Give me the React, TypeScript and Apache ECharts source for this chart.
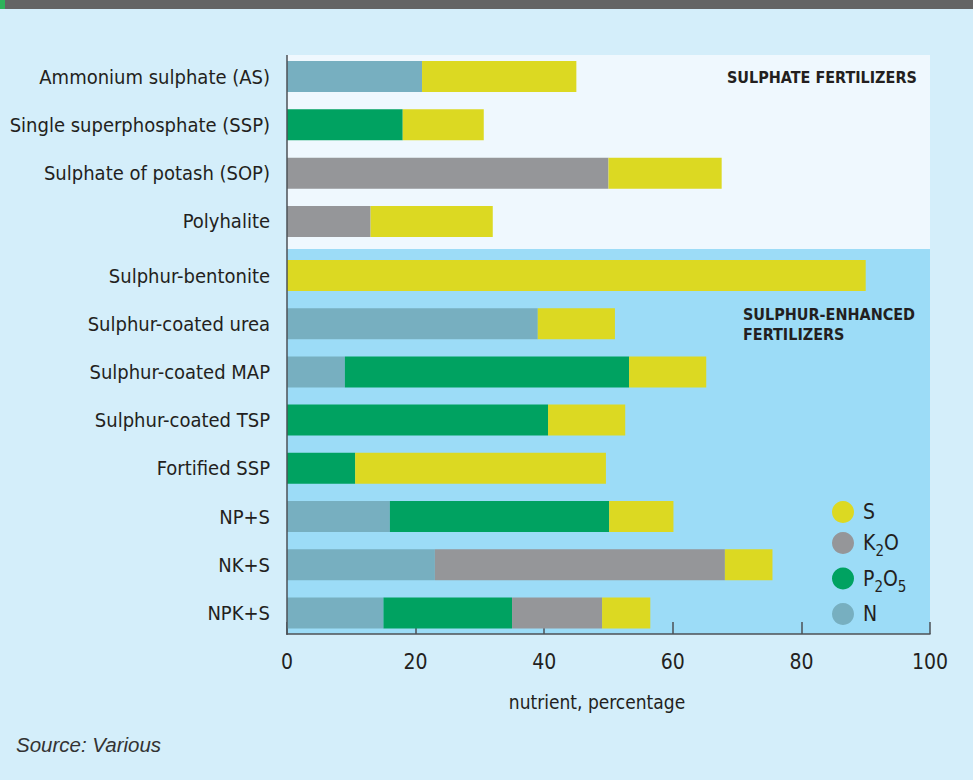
import React, { useEffect, useRef } from "react";
import * as echarts from "echarts";

const sulphateCats = ["Ammonium sulphate (AS)", "Single superphosphate (SSP)", "Sulphate of potash (SOP)", "Polyhalite"];
const sulphateN = [21, 0, 0, 0];
const sulphateP = [0, 18, 0, 0];
const sulphateK = [0, 0, 50, 13];
const sulphateS = [24, 12.6, 17.6, 19];

const enhancedCats = ["Sulphur-bentonite", "Sulphur-coated urea", "Sulphur-coated MAP", "Sulphur-coated TSP", "Fortified SSP", "NP+S", "NK+S", "NPK+S"];
const enhancedN = [0, 39, 9, 0, 0, 16, 23, 15];
const enhancedP = [0, 0, 44.2, 40.6, 10.6, 34.1, 0, 20];
const enhancedK = [0, 0, 0, 0, 0, 0, 45.1, 14];
const enhancedS = [90, 12, 12, 12, 39, 10, 7.4, 7.5];

const xTicks = [0, 20, 40, 60, 80, 100];

const COLORS: Record<string, string> = {
  N: "#77afc0",
  P2O5: "#00a261",
  K2O: "#959699",
  S: "#dcd922",
};

const FONT = "'Liberation Sans Narrow', 'DejaVu Sans Condensed', sans-serif";
const TEXT = "#231f20";

export default function App() {
  const ref = useRef<HTMLDivElement>(null);
  useEffect(() => {
    if (!ref.current) return;
    const chart = echarts.init(ref.current, null, { renderer: "svg" });

    const mk = (name: string, data: number[], gi: number) => ({
      name,
      type: "bar",
      stack: "g" + gi,
      xAxisIndex: gi,
      yAxisIndex: gi,
      barWidth: 31,
      itemStyle: { color: COLORS[name] },
      data,
    });

    const cat = (data: string[], gi: number) => ({
      type: "category",
      gridIndex: gi,
      data,
      inverse: true,
      axisLine: { show: false },
      axisTick: { show: false },
      axisLabel: { color: TEXT, fontSize: 20, fontFamily: FONT, margin: 17 },
    });

    chart.setOption({
      animation: false,
      backgroundColor: "#d4eefa",
      textStyle: { fontFamily: FONT },
      graphic: [
        { type: "rect", z: -5, shape: { x: 0, y: 0, width: 973, height: 9 }, style: { fill: "#646464" } },
        { type: "rect", z: -4, shape: { x: 0, y: 0, width: 5, height: 9 }, style: { fill: "#2db35a" } },
        { type: "rect", z: -5, shape: { x: 287, y: 55, width: 643, height: 194 }, style: { fill: "#eff8fe" } },
        { type: "rect", z: -5, shape: { x: 287, y: 249, width: 643, height: 385 }, style: { fill: "#9cdcf7" } },
        { type: "line", z: 50, shape: { x1: 287, y1: 55, x2: 287, y2: 635 }, style: { stroke: "#4d5156", lineWidth: 1.5 } },
        { type: "text", z: 50, left: 727, top: 69, style: { text: "SULPHATE FERTILIZERS", fill: TEXT, font: "bold 16px " + FONT } },
        { type: "text", z: 50, left: 743, top: 304, style: { text: "SULPHUR-ENHANCED\nFERTILIZERS", fill: TEXT, font: "bold 16px " + FONT, lineHeight: 20 } },
        { type: "text", z: 50, left: 16, top: 734, style: { text: "Source: Various", fill: "#333", font: "italic 20.5px 'Liberation Sans', sans-serif" } },
      ],
      legend: {
        data: ["S", "K2O", "P2O5", "N"],
        orient: "vertical",
        left: 827,
        top: 496,
        icon: "circle",
        itemWidth: 22,
        itemHeight: 22,
        itemGap: 9,
        formatter: (name: string) => {
          if (name === "K2O") return "{a|K}{s|2}{a|O}";
          if (name === "P2O5") return "{a|P}{s|2}{a|O}{s|5}";
          return "{a|" + name + "}";
        },
        textStyle: {
          padding: [0, 0, 0, 4],
          rich: {
            a: { fontSize: 21, color: TEXT, fontFamily: FONT },
            s: { fontSize: 15, color: TEXT, fontFamily: FONT, padding: [16, 0, 0, 0] },
          },
        },
      },
      grid: [
        { left: 287, width: 643, top: 52.4, height: 193.2, outerBoundsMode: "none", containLabel: false },
        { left: 287, width: 643, top: 251.4, height: 385.6, outerBoundsMode: "none", containLabel: false },
      ],
      xAxis: [
        { type: "value", gridIndex: 0, min: 0, max: 100, interval: 20, show: false },
        {
          type: "value",
          gridIndex: 1,
          min: 0,
          max: 100,
          interval: 20,
          offset: -3,
          name: "nutrient, percentage",
          nameLocation: "middle",
          nameGap: 58,
          nameTextStyle: { color: TEXT, fontSize: 19, fontFamily: FONT, padding: [0, 23, 0, 0] },
          splitLine: { show: false },
          axisLine: { show: true, lineStyle: { color: "#4d5156", width: 1.5 } },
          axisTick: { show: true, inside: true, length: 12, lineStyle: { color: "#4d5156", width: 1.5 } },
          axisLabel: {
            color: TEXT,
            fontSize: 21,
            fontFamily: FONT,
            margin: 17,
            formatter: (v: number) => (xTicks.includes(v) ? String(v) : ""),
          },
        },
      ],
      yAxis: [cat(sulphateCats, 0), cat(enhancedCats, 1)],
      series: [
        mk("N", sulphateN, 0),
        mk("P2O5", sulphateP, 0),
        mk("K2O", sulphateK, 0),
        mk("S", sulphateS, 0),
        mk("N", enhancedN, 1),
        mk("P2O5", enhancedP, 1),
        mk("K2O", enhancedK, 1),
        mk("S", enhancedS, 1),
      ],
    });
    return () => chart.dispose();
  }, []);
  return <div ref={ref} style={{ position: "fixed", left: 0, top: 0, width: 973, height: 780 }} />;
}
